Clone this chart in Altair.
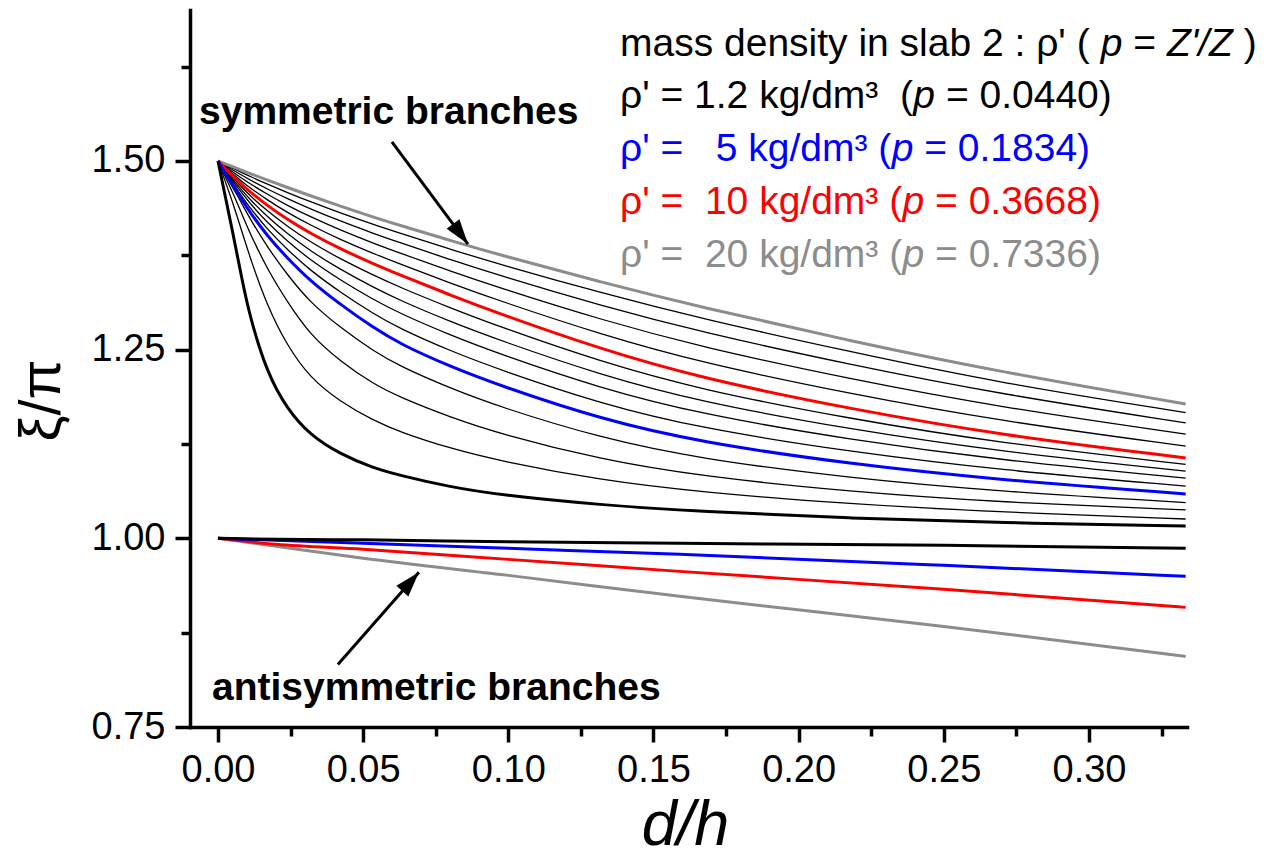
import altair as alt
import pandas as pd

# ---------------- data ----------------
X_SYM = [0.0, 0.0024, 0.0052, 0.0083, 0.011, 0.0169, 0.0238, 0.0317, 0.042, 0.0534,
         0.0627, 0.0799, 0.0971, 0.1316, 0.166, 0.2177, 0.2693, 0.3333]

SYM_GRAY  = [1.5, 1.4963, 1.4922, 1.4874, 1.4834, 1.4748, 1.4650, 1.4540, 1.4402, 1.4258, 1.4145, 1.3947, 1.3754, 1.3397, 1.3065, 1.2615, 1.2204, 1.1780]
SYM_T1    = [1.5, 1.4954, 1.4902, 1.4844, 1.4796, 1.4694, 1.4583, 1.4461, 1.4312, 1.4159, 1.4041, 1.3831, 1.3630, 1.3255, 1.2914, 1.2471, 1.2057, 1.1666]
SYM_T2    = [1.5, 1.4942, 1.4878, 1.4808, 1.4750, 1.4630, 1.4502, 1.4367, 1.4205, 1.4042, 1.3916, 1.3694, 1.3480, 1.3085, 1.2736, 1.2300, 1.1911, 1.1530]
SYM_T3    = [1.5, 1.4928, 1.4852, 1.4768, 1.4699, 1.4560, 1.4413, 1.4262, 1.4086, 1.3911, 1.3778, 1.3542, 1.3317, 1.2900, 1.2538, 1.2110, 1.1737, 1.1380]
SYM_T4    = [1.5, 1.4915, 1.4824, 1.4726, 1.4645, 1.4486, 1.4319, 1.4152, 1.3961, 1.3776, 1.3634, 1.3383, 1.3145, 1.2704, 1.2331, 1.1913, 1.1554, 1.1222]
SYM_RED   = [1.5, 1.4902, 1.4796, 1.4685, 1.4592, 1.4412, 1.4226, 1.4043, 1.3837, 1.3639, 1.3489, 1.3224, 1.2973, 1.2509, 1.2125, 1.1714, 1.1369, 1.1065]
SYM_T6    = [1.5, 1.4891, 1.4773, 1.4649, 1.4543, 1.4339, 1.4135, 1.3929, 1.3704, 1.3487, 1.3325, 1.3054, 1.2802, 1.2342, 1.1971, 1.1583, 1.1262, 1.0979]
SYM_T7    = [1.5, 1.4879, 1.4751, 1.4610, 1.4491, 1.4263, 1.4038, 1.3810, 1.3565, 1.3327, 1.3152, 1.2873, 1.2622, 1.2166, 1.1809, 1.1444, 1.1148, 1.0889]
SYM_T8    = [1.5, 1.4869, 1.4727, 1.4572, 1.4440, 1.4186, 1.3940, 1.3690, 1.3426, 1.3165, 1.2978, 1.2694, 1.2440, 1.1990, 1.1648, 1.1306, 1.1036, 1.0797]
SYM_T9    = [1.5, 1.4856, 1.4699, 1.4527, 1.4380, 1.4099, 1.3829, 1.3552, 1.3264, 1.2979, 1.2777, 1.2485, 1.2232, 1.1786, 1.1460, 1.1146, 1.0904, 1.0692]
SYM_BLUE  = [1.5, 1.4842, 1.4673, 1.4483, 1.4320, 1.4010, 1.3716, 1.3413, 1.3103, 1.2793, 1.2575, 1.2277, 1.2023, 1.1581, 1.1273, 1.0985, 1.0773, 1.0588]
SYM_T11   = [1.5, 1.4828, 1.4641, 1.4430, 1.4237, 1.3864, 1.3496, 1.3126, 1.2795, 1.2485, 1.2278, 1.1990, 1.1740, 1.1331, 1.1053, 1.0798, 1.0620, 1.0474]
SYM_T12   = [1.5, 1.4799, 1.4571, 1.4292, 1.4043, 1.3573, 1.3136, 1.2697, 1.2349, 1.2048, 1.1869, 1.1607, 1.1385, 1.1046, 1.0824, 1.0618, 1.0478, 1.0376]
SYM_T13   = [1.5, 1.4740, 1.4436, 1.4059, 1.3724, 1.3083, 1.2555, 1.2126, 1.1812, 1.1564, 1.1408, 1.1192, 1.1024, 1.0772, 1.0613, 1.0453, 1.0348, 1.0256]
SYM_BLACK = [1.5, 1.4549, 1.4033, 1.3423, 1.2933, 1.2191, 1.1714, 1.1369, 1.1118, 1.0932, 1.0833, 1.0680, 1.0574, 1.0442, 1.0356, 1.0266, 1.0206, 1.0164]

X_ANTI = [0.0, 0.02, 0.05, 0.1, 0.159, 0.25, 0.3333]
ANTI_GRAY  = [1.0, 0.9894, 0.9735, 0.9509, 0.9231, 0.8833, 0.8435]
ANTI_RED   = [1.0, 0.9920, 0.9854, 0.9721, 0.9562, 0.9324, 0.9085]
ANTI_BLUE  = [1.0, 0.9973, 0.9934, 0.9867, 0.9788, 0.9642, 0.9496]
ANTI_BLACK = [1.0, 0.9987, 0.9980, 0.9954, 0.9934, 0.9907, 0.9867]

X_MAJOR = [0.0, 0.05, 0.10, 0.15, 0.20, 0.25, 0.30]
X_MINOR = [0.025, 0.075, 0.125, 0.175, 0.225, 0.275, 0.325]
Y_MAJOR = [0.75, 1.00, 1.25, 1.50]
Y_MINOR = [0.875, 1.125, 1.375, 1.625]

ARROW_SYM = [0.0599, 1.5252, 0.0861, 1.3899]    # x, y, x2, y2
ARROW_ANTI = [0.0413, 0.8329, 0.0692, 0.9549]

# legend lines, as (text, italic?) pieces
LEGEND_LINES = [
    [("mass density in slab 2 : \u03c1' ( ", False), ("p", True), (" = ", False), ("Z'/Z", True), (" )", False)],
    [("\u03c1' = 1.2 kg/dm\u00b3  (", False), ("p", True), (" = 0.0440)", False)],
    [("\u03c1' =   5 kg/dm\u00b3 (", False), ("p", True), (" = 0.1834)", False)],
    [("\u03c1' =  10 kg/dm\u00b3 (", False), ("p", True), (" = 0.3668)", False)],
    [("\u03c1' =  20 kg/dm\u00b3 (", False), ("p", True), (" = 0.7336)", False)],
]
LEGEND_COLORS = ["black", "black", "#0000ff", "#ff0000", "#8c8c8c"]

# ---------------- tables ----------------
sym_thin = [("t1", SYM_T1), ("t2", SYM_T2), ("t3", SYM_T3), ("t4", SYM_T4),
            ("t6", SYM_T6), ("t7", SYM_T7), ("t8", SYM_T8), ("t9", SYM_T9),
            ("t11", SYM_T11), ("t12", SYM_T12), ("t13", SYM_T13)]
sym_main = [("gray", SYM_GRAY), ("red", SYM_RED), ("blue", SYM_BLUE), ("black", SYM_BLACK)]
anti_main = [("gray", ANTI_GRAY), ("red", ANTI_RED), ("blue", ANTI_BLUE), ("black", ANTI_BLACK)]

thin_rows = [dict(curve=n, x=x, y=y) for n, ys in sym_thin for x, y in zip(X_SYM, ys)]
sym_rows = [dict(curve="s_" + n, grp=n, x=x, y=y) for n, ys in sym_main for x, y in zip(X_SYM, ys)]
anti_rows = [dict(curve="a_" + n, grp=n, x=x, y=y) for n, ys in anti_main for x, y in zip(X_ANTI, ys)]
df_thin = pd.DataFrame(thin_rows)
df_sym = pd.DataFrame(sym_rows)
df_anti = pd.DataFrame(anti_rows)
df_arrows = pd.DataFrame([
    dict(x=ARROW_SYM[0], y=ARROW_SYM[1], x2=ARROW_SYM[2], y2=ARROW_SYM[3]),
    dict(x=ARROW_ANTI[0], y=ARROW_ANTI[1], x2=ARROW_ANTI[2], y2=ARROW_ANTI[3]),
])

FONT = "Liberation Sans"
FS = 39
XS = alt.Scale(domain=[-0.00964, 0.33376], nice=False, zero=False)
YS = alt.Scale(domain=[0.75, 1.70], nice=False, zero=False)
COLOR = alt.Color("grp:N", scale=alt.Scale(domain=["gray", "red", "blue", "black"],
                                           range=["#8c8c8c", "#ff0000", "#0000ff", "#000000"]),
                  legend=None)

x_major_axis = alt.Axis(values=X_MAJOR, format=".2f", orient="bottom", grid=False,
                        domainWidth=3.5, domainColor="black", domainCap="square",
                        tickSize=15, tickWidth=3.5, tickColor="black",
                        labelFont=FONT, labelFontSize=38, labelColor="black", labelPadding=9,
                        labelFlush=False, labelOverlap=False,
                        title="d/h", titleFont=FONT, titleFontSize=63, titleFontStyle="italic",
                        titleFontWeight="normal", titleColor="black",
                        titleX=495, titleY=117, titleAlign="center", titleBaseline="alphabetic")
y_major_axis = alt.Axis(values=Y_MAJOR, format=".2f", orient="left", grid=False,
                        domainWidth=3.5, domainColor="black", domainCap="square",
                        tickSize=15, tickWidth=3.5, tickColor="black",
                        labelFont=FONT, labelFontSize=38, labelColor="black", labelPadding=10,
                        labelFlush=False, labelOverlap=False,
                        title="\u03be/\u03c0", titleFont=FONT, titleFontSize=58,
                        titleFontWeight="normal", titleColor="black", titleAngle=270,
                        titleX=-148, titleY=390, titleAlign="center", titleBaseline="middle")
x_minor_axis = alt.Axis(values=X_MINOR, orient="bottom", grid=False, domain=False, labels=False,
                        tickSize=9, tickWidth=3.5, tickColor="black", title=None)
y_minor_axis = alt.Axis(values=Y_MINOR, orient="left", grid=False, domain=False, labels=False,
                        tickSize=9, tickWidth=3.5, tickColor="black", title=None)

thin = alt.Chart(df_thin).mark_line(color="black", strokeWidth=1.3, interpolate="basis").encode(
    x=alt.X("x:Q", scale=XS, axis=x_major_axis),
    y=alt.Y("y:Q", scale=YS, axis=y_major_axis),
    detail="curve:N",
)

sym = alt.Chart(df_sym).mark_line(strokeWidth=3, interpolate="basis").encode(
    x=alt.X("x:Q", scale=XS, axis=None),
    y=alt.Y("y:Q", scale=YS, axis=None),
    detail="curve:N",
    color=COLOR,
)

anti = alt.Chart(df_anti).mark_line(strokeWidth=3, interpolate="monotone").encode(
    x=alt.X("x:Q", scale=XS, axis=None),
    y=alt.Y("y:Q", scale=YS, axis=None),
    detail="curve:N",
    color=COLOR,
)

minor = alt.Chart(df_thin).mark_point(opacity=0).encode(
    x=alt.X("x:Q", scale=XS, axis=x_minor_axis),
    y=alt.Y("y:Q", scale=YS, axis=y_minor_axis),
)

arrow_lines = alt.Chart(df_arrows).mark_rule(strokeWidth=3, color="black").encode(
    x=alt.X("x:Q", scale=XS, axis=None), y=alt.Y("y:Q", scale=YS, axis=None),
    x2="x2:Q", y2="y2:Q",
)

HEAD = "M0,0 L-0.32,1 L0.32,1 Z"
head_sym = alt.Chart(df_arrows.iloc[[0]]).mark_point(
    shape=HEAD, filled=True, color="black", opacity=1, size=2500, angle=143.3, strokeWidth=0
).encode(x=alt.X("x2:Q", scale=XS, axis=None), y=alt.Y("y2:Q", scale=YS, axis=None))
head_anti = alt.Chart(df_arrows.iloc[[1]]).mark_point(
    shape=HEAD, filled=True, color="black", opacity=1, size=2500, angle=41.4, strokeWidth=0
).encode(x=alt.X("x2:Q", scale=XS, axis=None), y=alt.Y("y2:Q", scale=YS, axis=None))

one = alt.Data(values=[{"a": 1}])

# Arial / Liberation Sans advance widths (em) used to lay out the mixed-style legend lines
ADV = {" ": 0.278, "\u00a0": 0.278, "m": 0.833, "a": 0.556, "s": 0.5, "d": 0.556, "e": 0.556,
       "n": 0.556, "i": 0.222, "t": 0.278, "y": 0.5, "l": 0.222, "b": 0.556, ":": 0.278,
       "\u03c1": 0.578, "'": 0.191, "(": 0.333, ")": 0.333, "=": 0.584, ".": 0.278, "k": 0.5,
       "g": 0.556, "/": 0.278, "\u00b3": 0.333, "p": 0.556, "Z": 0.611}

def text_width(s, size):
    return sum(ADV.get(ch, 0.556) for ch in s) * size

def label(text, px, py, color="black", size=FS, weight="normal", style="normal"):
    return alt.Chart(one).mark_text(
        text=text, font=FONT, fontSize=size, fontWeight=weight, fontStyle=style, color=color,
        align="left", baseline="alphabetic"
    ).encode(x=alt.value(px), y=alt.value(py))

LEG_X = 430
LEG_Y = [46, 98, 151, 204, 257]
texts = []
for pieces, py, col in zip(LEGEND_LINES, LEG_Y, LEGEND_COLORS):
    cx = LEG_X
    for s, ital in pieces:
        stripped = s.lstrip(" ")
        lead = len(s) - len(stripped)
        body = stripped.rstrip(" ").replace(" ", "\u00a0")
        if body:
            texts.append(label(body, cx + text_width(" " * lead, FS), py, col,
                               style="italic" if ital else "normal"))
        cx += text_width(s, FS)
texts.append(label("symmetric branches", 9, 114, weight="bold"))
texts.append(label("antisymmetric branches", 22, 690, weight="bold"))

chart = alt.layer(thin, sym, anti, minor, arrow_lines, head_sym, head_anti, *texts).resolve_axis(
    x="independent", y="independent"
).properties(
    width=997, height=717,
    autosize=alt.AutoSizeParams(type="none"),
    padding={"left": 190, "top": 10, "right": 84, "bottom": 129},
    background="white",
).configure_view(stroke=None)

chart.save("out.html", embed_options={"renderer": "svg", "actions": False})
